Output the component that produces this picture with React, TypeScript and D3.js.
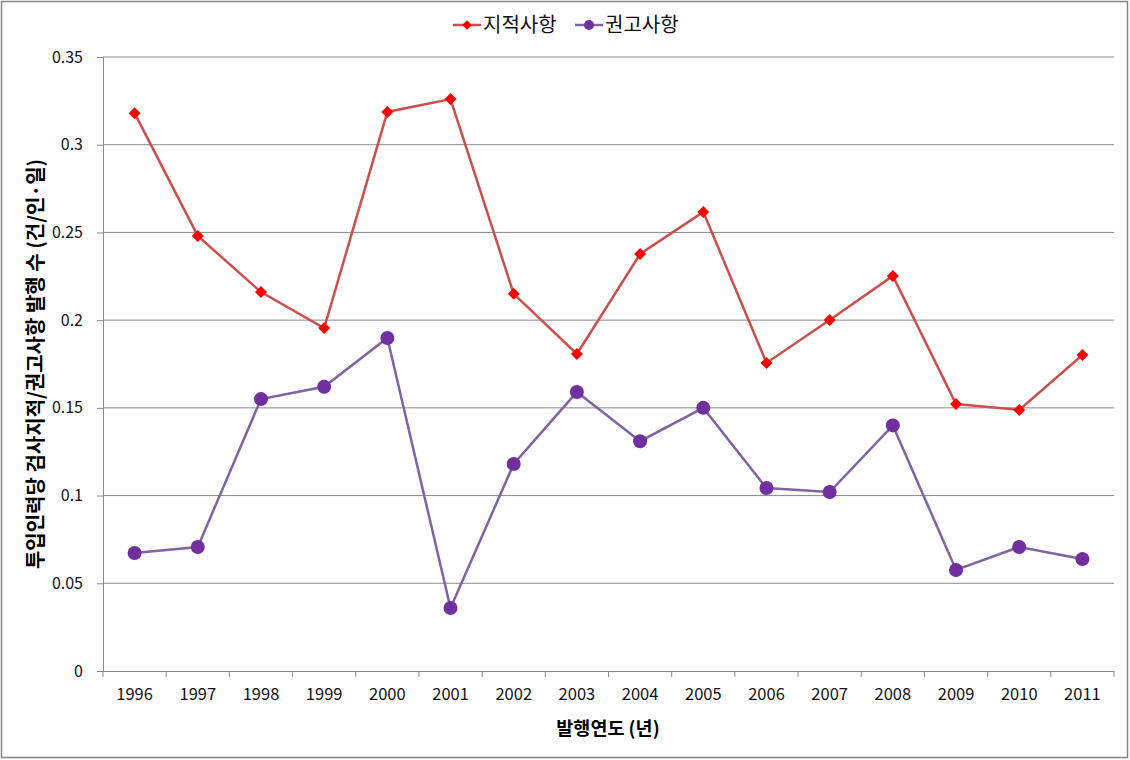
import React, { useEffect, useRef } from 'react';
import * as d3 from 'd3';

const years = ['1996', '1997', '1998', '1999', '2000', '2001', '2002', '2003', '2004', '2005', '2006', '2007', '2008', '2009', '2010', '2011'];
const jijeok = [0.318, 0.248, 0.216, 0.1955, 0.3187, 0.326, 0.215, 0.1807, 0.2377, 0.2617, 0.1756, 0.2001, 0.2252, 0.1522, 0.1488, 0.1801];
const gwongo = [0.0673, 0.0707, 0.155, 0.162, 0.1898, 0.0359, 0.118, 0.159, 0.131, 0.150, 0.1043, 0.102, 0.140, 0.0576, 0.0707, 0.0638];
const yTicks = [0, 0.05, 0.1, 0.15, 0.2, 0.25, 0.3, 0.35];
const seriesNames = ['지적사항', '권고사항'];

const W = 1130;
const H = 760;
const margin = { top: 57, right: 16, bottom: 89, left: 103 };
const font = "'Noto Sans CJK KR', 'Noto Sans', sans-serif";

function App() {
  const svgRef = useRef<SVGSVGElement>(null);

  useEffect(() => {
    document.body.style.margin = '0';
    const svg = d3.select(svgRef.current);
    svg.selectAll('*').remove();

    // outer frame
    svg.append('rect')
      .attr('x', 1.5).attr('y', 1.5)
      .attr('width', W - 4).attr('height', H - 4)
      .attr('fill', 'white').attr('stroke', '#858585').attr('stroke-width', 1.5);

    const x = d3.scaleBand().domain(years).range([margin.left, W - margin.right]);
    const y = d3.scaleLinear().domain([0, 0.35]).range([H - margin.bottom, margin.top]);

    // gridlines
    svg.append('g')
      .selectAll('line')
      .data(yTicks.filter(t => t > 0))
      .join('line')
      .attr('x1', margin.left).attr('x2', W - margin.right)
      .attr('y1', d => y(d)).attr('y2', d => y(d))
      .attr('stroke', '#8a8a8a').attr('stroke-width', 1);

    // y axis
    const yAxis = svg.append('g').attr('transform', `translate(${margin.left},0)`)
      .call(d3.axisLeft(y).tickValues(yTicks).tickSize(6).tickPadding(14).tickFormat(d => String(d)));
    yAxis.select('.domain').attr('stroke', '#8a8a8a');
    yAxis.selectAll('line').attr('stroke', '#8a8a8a');
    yAxis.selectAll('text').attr('font-family', font).attr('font-size', 16).attr('fill', '#111');

    // x axis
    const xAxis = svg.append('g').attr('transform', `translate(0,${y(0)})`)
      .call(d3.axisBottom(x).tickSize(0).tickPadding(17));
    xAxis.select('.domain').attr('stroke', '#8a8a8a');
    xAxis.selectAll('text').attr('font-family', font).attr('font-size', 16.5).attr('fill', '#111');
    xAxis.append('g')
      .selectAll('line')
      .data(years.concat(['end']))
      .join('line')
      .attr('x1', (d, i) => margin.left + i * x.bandwidth())
      .attr('x2', (d, i) => margin.left + i * x.bandwidth())
      .attr('y1', 0).attr('y2', 6)
      .attr('stroke', '#8a8a8a');

    // axis titles
    svg.append('text')
      .attr('x', 608).attr('y', 735)
      .attr('text-anchor', 'middle')
      .attr('font-family', font).attr('font-size', 18.5).attr('font-weight', 'bold')
      .text('발행연도 (년)');
    svg.append('text')
      .attr('transform', `translate(43,${(margin.top + H - margin.bottom) / 2}) rotate(-90)`)
      .attr('text-anchor', 'middle')
      .attr('font-family', font).attr('font-size', 20).attr('font-weight', 'bold')
      .text('투입인력당 검사지적/권고사항 발행 수 (건/인·일)');

    const cx = (i: number) => (x(years[i]) as number) + x.bandwidth() / 2;
    const line = d3.line<number>().x((d, i) => cx(i)).y(d => y(d));

    // 지적사항
    svg.append('path').datum(jijeok)
      .attr('d', line).attr('fill', 'none')
      .attr('stroke', '#c9504d').attr('stroke-width', 2.5);
    svg.append('g').selectAll('path')
      .data(jijeok)
      .join('path')
      .attr('d', d3.symbol(d3.symbolSquare, 72))
      .attr('transform', (d, i) => `translate(${cx(i)},${y(d)}) rotate(45)`)
      .attr('fill', '#ff0000');

    // 권고사항
    svg.append('path').datum(gwongo)
      .attr('d', line).attr('fill', 'none')
      .attr('stroke', '#8064a2').attr('stroke-width', 2.5);
    svg.append('g').selectAll('circle')
      .data(gwongo)
      .join('circle')
      .attr('cx', (d, i) => cx(i)).attr('cy', d => y(d))
      .attr('r', 7)
      .attr('fill', '#7030a0');

    // legend
    const legend = svg.append('g').attr('transform', 'translate(0,25)');
    const items = [
      { name: seriesNames[0], x0: 453, line: '#c9504d', fill: '#ff0000', shape: 'diamond' },
      { name: seriesNames[1], x0: 575, line: '#8064a2', fill: '#7030a0', shape: 'circle' },
    ];
    items.forEach(it => {
      legend.append('line')
        .attr('x1', it.x0).attr('x2', it.x0 + 28).attr('y1', 0).attr('y2', 0)
        .attr('stroke', it.line).attr('stroke-width', 2.5);
      if (it.shape === 'diamond') {
        legend.append('path').attr('d', d3.symbol(d3.symbolSquare, 45))
          .attr('transform', `translate(${it.x0 + 14},0) rotate(45)`).attr('fill', it.fill);
      } else {
        legend.append('circle').attr('cx', it.x0 + 14).attr('cy', 0).attr('r', 5).attr('fill', it.fill);
      }
      legend.append('text')
        .attr('x', it.x0 + 30).attr('y', 0).attr('dy', '0.35em')
        .attr('font-family', font).attr('font-size', 20).attr('fill', '#111')
        .text(it.name);
    });
  }, []);

  return (
    <div style={{ width: W, height: H }}>
      <svg ref={svgRef} width={W} height={H} style={{ display: 'block' }}></svg>
    </div>
  );
}

export default App;
